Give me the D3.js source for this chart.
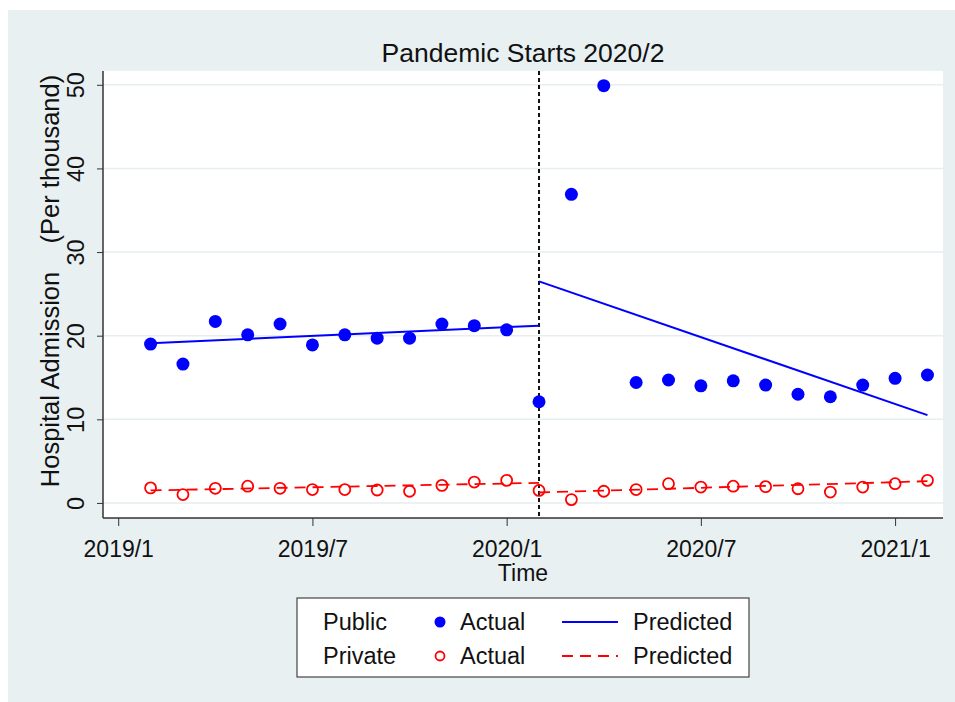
<!DOCTYPE html>
<html lang="en">
  <head>
    <meta charset="UTF-8" />
    <title>Pandemic Starts 2020/2</title>
    <script src="https://d3js.org/d3.v7.min.js"></script>
    <style>
      body {
        margin: 0;
        background: #fff;
      }
      svg {
        display: block;
      }
      text {
        font-family: 'Liberation Sans', Arial, sans-serif;
        fill: #111;
      }
    </style>
  </head>
  <body>
    <svg width="955" height="702"></svg>

    <script>
      // monthly observations, 2019/2 .. 2021/2
      const months = [
        '2019/2', '2019/3', '2019/4', '2019/5', '2019/6', '2019/7', '2019/8',
        '2019/9', '2019/10', '2019/11', '2019/12', '2020/1', '2020/2',
        '2020/3', '2020/4', '2020/5', '2020/6', '2020/7', '2020/8', '2020/9',
        '2020/10', '2020/11', '2020/12', '2021/1', '2021/2',
      ];
      const publicActual = [
        19.0, 16.6, 21.7, 20.1, 21.4, 18.9, 20.1, 19.7, 19.7, 21.4, 21.2, 20.7,
        12.1, 36.9, 49.9, 14.4, 14.7, 14.0, 14.6, 14.1, 13.0, 12.7, 14.1, 14.9,
        15.3,
      ];
      const privateActual = [
        1.8, 1.0, 1.75, 2.0, 1.75, 1.6, 1.6, 1.55, 1.4, 2.1, 2.5, 2.7, 1.5, 0.4,
        1.4, 1.6, 2.3, 1.9, 2.0, 1.95, 1.7, 1.3, 1.9, 2.3, 2.7,
      ];
      // fitted segments: [start month, end month] and values
      const preMonths = ['2019/2', '2020/2'];
      const postMonths = ['2020/2', '2021/2'];
      const publicPredPre = [19.1, 21.2];
      const publicPredPost = [26.5, 10.5];
      const privatePredPre = [1.5, 2.4];
      const privatePredPost = [1.25, 2.6];

      const xTickLabels = ['2019/1', '2019/7', '2020/1', '2020/7', '2021/1'];
      const yTicks = [0, 10, 20, 30, 40, 50];
      const breakMonth = '2020/2';

      // "YYYY/M" -> months since 2019/1
      const mIndex = (s) => {
        const [y, m] = s.split('/').map(Number);
        return (y - 2019) * 12 + (m - 1);
      };

      const svg = d3.select('svg');

      // graph region background
      svg
        .append('rect')
        .attr('x', 8)
        .attr('y', 10)
        .attr('width', 947)
        .attr('height', 692)
        .attr('fill', '#e8f0f2');

      const plot = { left: 103, right: 943, top: 71, bottom: 518 };

      svg
        .append('rect')
        .attr('x', plot.left)
        .attr('y', plot.top)
        .attr('width', plot.right - plot.left)
        .attr('height', plot.bottom - plot.top)
        .attr('fill', '#fff');

      const x = d3
        .scaleLinear()
        .domain([-0.47, 25.48])
        .range([plot.left, plot.right]);

      const y = d3
        .scaleLinear()
        .domain([-1.8, 51.65])
        .range([plot.bottom, plot.top]);

      // grid lines
      svg
        .append('g')
        .selectAll('line')
        .data(yTicks)
        .join('line')
        .attr('x1', plot.left)
        .attr('x2', plot.right)
        .attr('y1', (d) => y(d))
        .attr('y2', (d) => y(d))
        .attr('stroke', '#e6eef0')
        .attr('stroke-width', 1.5);

      // y axis
      const yAxis = svg
        .append('g')
        .attr('transform', `translate(${plot.left},0)`)
        .call(d3.axisLeft(y).tickValues(yTicks).tickSize(6).tickPadding(0));
      yAxis.select('.domain').remove();
      yAxis.selectAll('.tick line').attr('stroke', '#333');
      yAxis
        .selectAll('.tick text')
        .attr('transform', 'rotate(-90)')
        .attr('x', 0)
        .attr('y', -19)
        .attr('dy', 0)
        .attr('text-anchor', 'middle')
        .style('font-size', '23.5px')
        .style('font-family', "'Liberation Sans', Arial, sans-serif")
        .attr('fill', '#111');

      // x axis
      const xAxis = svg
        .append('g')
        .attr('transform', `translate(0,${plot.bottom})`)
        .call(
          d3
            .axisBottom(x)
            .tickValues(xTickLabels.map(mIndex))
            .tickFormat((d, i) => xTickLabels[i])
            .tickSize(8)
            .tickPadding(6),
        );
      xAxis.select('.domain').remove();
      xAxis.selectAll('.tick line').attr('stroke', '#333');
      xAxis
        .selectAll('.tick text')
        .attr('dy', 0)
        .attr('y', 39)
        .style('font-size', '23px')
        .style('font-family', "'Liberation Sans', Arial, sans-serif")
        .attr('fill', '#111');

      // axis lines
      svg
        .append('line')
        .attr('x1', plot.left)
        .attr('x2', plot.left)
        .attr('y1', plot.top)
        .attr('y2', plot.bottom)
        .attr('stroke', '#333')
        .attr('stroke-width', 1.5);
      svg
        .append('line')
        .attr('x1', plot.left)
        .attr('x2', plot.right)
        .attr('y1', plot.bottom)
        .attr('y2', plot.bottom)
        .attr('stroke', '#333')
        .attr('stroke-width', 1.5);

      // pandemic start marker
      svg
        .append('line')
        .attr('x1', x(mIndex(breakMonth)))
        .attr('x2', x(mIndex(breakMonth)))
        .attr('y1', plot.top)
        .attr('y2', plot.bottom)
        .attr('stroke', '#111')
        .attr('stroke-width', 2)
        .attr('stroke-dasharray', '4,3');

      const line = d3
        .line()
        .x((d) => x(d[0]))
        .y((d) => y(d[1]));

      const seg = (ms, vs) => ms.map((m, i) => [mIndex(m), vs[i]]);

      // predicted lines
      [
        [preMonths, privatePredPre],
        [postMonths, privatePredPost],
      ].forEach(([ms, vs]) => {
        svg
          .append('path')
          .attr('d', line(seg(ms, vs)))
          .attr('fill', 'none')
          .attr('stroke', '#ff0000')
          .attr('stroke-width', 1.8)
          .attr('stroke-dasharray', '11,7');
      });
      [
        [preMonths, publicPredPre],
        [postMonths, publicPredPost],
      ].forEach(([ms, vs]) => {
        svg
          .append('path')
          .attr('d', line(seg(ms, vs)))
          .attr('fill', 'none')
          .attr('stroke', '#0000ff')
          .attr('stroke-width', 2);
      });

      // actual points
      svg
        .append('g')
        .selectAll('circle')
        .data(privateActual)
        .join('circle')
        .attr('cx', (d, i) => x(mIndex(months[i])))
        .attr('cy', (d) => y(d))
        .attr('r', 5.5)
        .attr('fill', 'none')
        .attr('stroke', '#ff0000')
        .attr('stroke-width', 1.8);

      svg
        .append('g')
        .selectAll('circle')
        .data(publicActual)
        .join('circle')
        .attr('cx', (d, i) => x(mIndex(months[i])))
        .attr('cy', (d) => y(d))
        .attr('r', 6.5)
        .attr('fill', '#0000ff');

      // titles
      svg
        .append('text')
        .attr('x', (plot.left + plot.right) / 2)
        .attr('y', 62)
        .attr('text-anchor', 'middle')
        .style('font-size', '26.5px')
        .text('Pandemic Starts 2020/2');

      svg
        .append('text')
        .attr('x', (plot.left + plot.right) / 2)
        .attr('y', 581)
        .attr('text-anchor', 'middle')
        .style('font-size', '23px')
        .text('Time');

      svg
        .append('text')
        .attr('transform', 'translate(59,281) rotate(-90)')
        .attr('text-anchor', 'middle')
        .attr('xml:space', 'preserve')
        .style('white-space', 'pre')
        .style('font-size', '25.5px')
        .text('Hospital Admission    (Per thousand)');

      // legend
      const lg = svg.append('g');
      lg.append('rect')
        .attr('x', 297)
        .attr('y', 598)
        .attr('width', 452)
        .attr('height', 79)
        .attr('fill', '#fff')
        .attr('stroke', '#444')
        .attr('stroke-width', 1.2);

      const legendRows = [
        { group: 'Public', color: '#0000ff', filled: true, dash: null, cy: 622 },
        { group: 'Private', color: '#ff0000', filled: false, dash: '11,7', cy: 656 },
      ];
      legendRows.forEach((r) => {
        lg.append('text')
          .attr('x', 323)
          .attr('y', r.cy + 8)
          .style('font-size', '23.5px')
          .text(r.group);
        lg.append('circle')
          .attr('cx', 440)
          .attr('cy', r.cy)
          .attr('r', r.filled ? 5.5 : 4.5)
          .attr('fill', r.filled ? r.color : 'none')
          .attr('stroke', r.filled ? 'none' : r.color)
          .attr('stroke-width', 1.8);
        lg.append('text')
          .attr('x', 460)
          .attr('y', r.cy + 8)
          .style('font-size', '23.5px')
          .text('Actual');
        lg.append('line')
          .attr('x1', 562)
          .attr('x2', 618)
          .attr('y1', r.cy)
          .attr('y2', r.cy)
          .attr('stroke', r.color)
          .attr('stroke-width', 2)
          .attr('stroke-dasharray', r.dash);
        lg.append('text')
          .attr('x', 633)
          .attr('y', r.cy + 8)
          .style('font-size', '23.5px')
          .text('Predicted');
      });
    </script>
  </body>
</html>
